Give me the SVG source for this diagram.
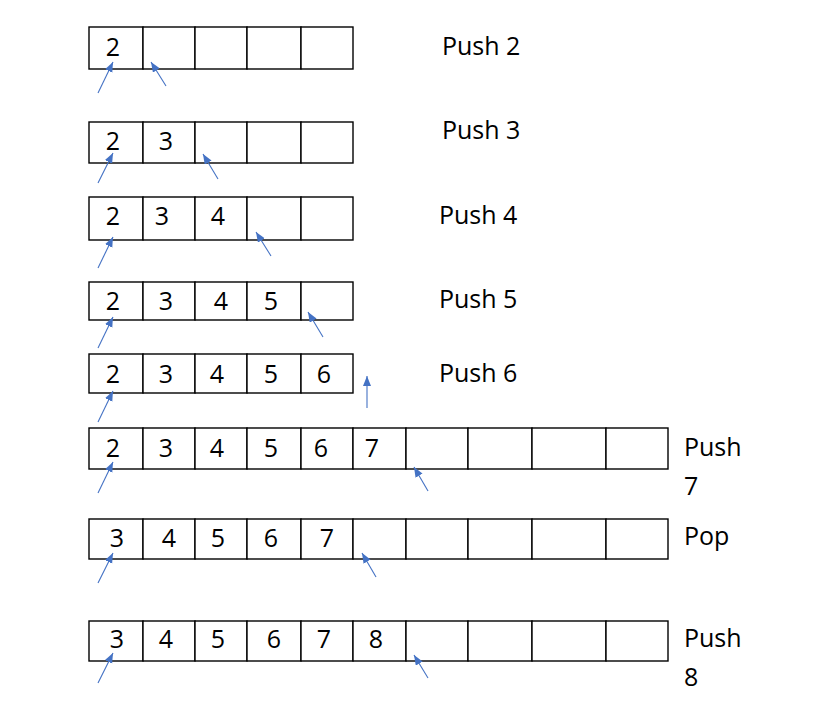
<svg xmlns="http://www.w3.org/2000/svg" width="834" height="707" viewBox="0 0 834 707">
<defs>
<style>
.c{fill:#fff;stroke:#000;stroke-width:1.4}
.t{font-family:"Open Sans","Liberation Sans",Arial,sans-serif;font-size:25px;fill:#000;text-anchor:middle}
.l{font-family:"Open Sans","Liberation Sans",Arial,sans-serif;font-size:25px;fill:#000}
.a{stroke:#4472C4;stroke-width:1.1;fill:none;marker-end:url(#ah)}
</style>
<marker id="ah" markerUnits="userSpaceOnUse" markerWidth="12" markerHeight="10" refX="10" refY="4" orient="auto">
<path d="M0,0 L10,4 L0,8 Z" fill="#4472C4"/>
</marker>
</defs>
<rect width="834" height="707" fill="#fff"/>

<g id="row1">
<rect class="c" x="89" y="27" width="54" height="42"/><rect class="c" x="143" y="27" width="52" height="42"/><rect class="c" x="195" y="27" width="52" height="42"/><rect class="c" x="247" y="27" width="54" height="42"/><rect class="c" x="301" y="27" width="52" height="42"/>
<text class="t" x="113" y="56">2</text>
<text class="l" x="442" y="55">Push 2</text>
</g>
<g id="row2">
<rect class="c" x="89" y="122" width="54" height="41"/><rect class="c" x="143" y="122" width="52" height="41"/><rect class="c" x="195" y="122" width="52" height="41"/><rect class="c" x="247" y="122" width="54" height="41"/><rect class="c" x="301" y="122" width="52" height="41"/>
<text class="t" x="113" y="150">2</text><text class="t" x="166" y="150">3</text>
<text class="l" x="442" y="139">Push 3</text>
</g>
<g id="row3">
<rect class="c" x="89" y="197" width="54" height="43"/><rect class="c" x="143" y="197" width="52" height="43"/><rect class="c" x="195" y="197" width="52" height="43"/><rect class="c" x="247" y="197" width="54" height="43"/><rect class="c" x="301" y="197" width="52" height="43"/>
<text class="t" x="113" y="225">2</text><text class="t" x="162" y="225">3</text><text class="t" x="218" y="225">4</text>
<text class="l" x="439" y="224">Push 4</text>
</g>
<g id="row4">
<rect class="c" x="89" y="282" width="54" height="38"/><rect class="c" x="143" y="282" width="52" height="38"/><rect class="c" x="195" y="282" width="52" height="38"/><rect class="c" x="247" y="282" width="54" height="38"/><rect class="c" x="301" y="282" width="52" height="38"/>
<text class="t" x="113" y="310">2</text><text class="t" x="166" y="310">3</text><text class="t" x="221" y="310">4</text><text class="t" x="271" y="310">5</text>
<text class="l" x="439" y="308">Push 5</text>
</g>
<g id="row5">
<rect class="c" x="89" y="354" width="54" height="39"/><rect class="c" x="143" y="354" width="52" height="39"/><rect class="c" x="195" y="354" width="52" height="39"/><rect class="c" x="247" y="354" width="54" height="39"/><rect class="c" x="301" y="354" width="52" height="39"/>
<text class="t" x="113" y="383">2</text><text class="t" x="166" y="383">3</text><text class="t" x="217" y="383">4</text><text class="t" x="271" y="383">5</text><text class="t" x="324" y="383">6</text>
<text class="l" x="439" y="382">Push 6</text>
</g>
<g id="row6">
<rect class="c" x="89" y="428" width="54" height="41"/><rect class="c" x="143" y="428" width="52" height="41"/><rect class="c" x="195" y="428" width="52" height="41"/><rect class="c" x="247" y="428" width="54" height="41"/><rect class="c" x="301" y="428" width="52" height="41"/><rect class="c" x="353" y="428" width="53" height="41"/><rect class="c" x="406" y="428" width="62" height="41"/><rect class="c" x="468" y="428" width="64" height="41"/><rect class="c" x="532" y="428" width="74" height="41"/><rect class="c" x="606" y="428" width="62" height="41"/>
<text class="t" x="113" y="457">2</text><text class="t" x="166" y="457">3</text><text class="t" x="217" y="457">4</text><text class="t" x="271" y="457">5</text><text class="t" x="321" y="457">6</text><text class="t" x="372" y="457">7</text>
<text class="l" x="684" y="456">Push</text><text class="l" x="684" y="495">7</text>
</g>
<g id="row7">
<rect class="c" x="89" y="519" width="54" height="40"/><rect class="c" x="143" y="519" width="52" height="40"/><rect class="c" x="195" y="519" width="52" height="40"/><rect class="c" x="247" y="519" width="54" height="40"/><rect class="c" x="301" y="519" width="52" height="40"/><rect class="c" x="353" y="519" width="53" height="40"/><rect class="c" x="406" y="519" width="62" height="40"/><rect class="c" x="468" y="519" width="64" height="40"/><rect class="c" x="532" y="519" width="74" height="40"/><rect class="c" x="606" y="519" width="62" height="40"/>
<text class="t" x="117" y="547">3</text><text class="t" x="169" y="547">4</text><text class="t" x="218" y="547">5</text><text class="t" x="271" y="547">6</text><text class="t" x="327" y="547">7</text>
<text class="l" x="684" y="545">Pop</text>
</g>
<g id="row8">
<rect class="c" x="89" y="621" width="54" height="40"/><rect class="c" x="143" y="621" width="52" height="40"/><rect class="c" x="195" y="621" width="52" height="40"/><rect class="c" x="247" y="621" width="54" height="40"/><rect class="c" x="301" y="621" width="52" height="40"/><rect class="c" x="353" y="621" width="53" height="40"/><rect class="c" x="406" y="621" width="62" height="40"/><rect class="c" x="468" y="621" width="64" height="40"/><rect class="c" x="532" y="621" width="74" height="40"/><rect class="c" x="606" y="621" width="62" height="40"/>
<text class="t" x="117" y="648">3</text><text class="t" x="166" y="648">4</text><text class="t" x="218" y="648">5</text><text class="t" x="274" y="648">6</text><text class="t" x="324" y="648">7</text><text class="t" x="376" y="648">8</text>
<text class="l" x="684" y="647">Push</text><text class="l" x="684" y="686">8</text>
</g>

<g id="connectors">
<line class="a" x1="98" y1="93" x2="113" y2="62"/>
<line class="a" x1="166" y1="86" x2="151" y2="62"/>
<line class="a" x1="98" y1="183" x2="113" y2="153"/>
<line class="a" x1="218" y1="179" x2="203" y2="154"/>
<line class="a" x1="98" y1="268" x2="113" y2="237"/>
<line class="a" x1="271" y1="256" x2="256" y2="232"/>
<line class="a" x1="98" y1="348" x2="113" y2="317"/>
<line class="a" x1="323" y1="337" x2="308" y2="312"/>
<line class="a" x1="98" y1="422" x2="113" y2="391"/>
<line class="a" x1="367" y1="408" x2="367" y2="376"/>
<line class="a" x1="98" y1="493" x2="113" y2="462"/>
<line class="a" x1="428" y1="491" x2="414" y2="467"/>
<line class="a" x1="98" y1="583" x2="113" y2="553"/>
<line class="a" x1="376" y1="577" x2="362" y2="553"/>
<line class="a" x1="98" y1="683" x2="113" y2="653"/>
<line class="a" x1="428" y1="678" x2="414" y2="655"/>
</g>
</svg>
